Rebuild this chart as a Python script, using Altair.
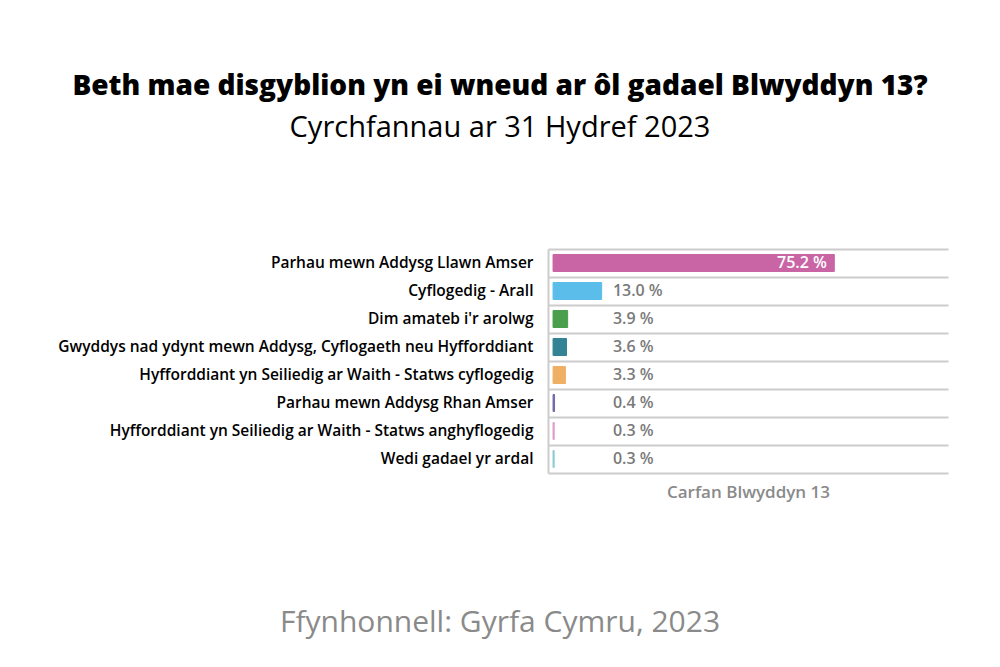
import altair as alt
import pandas as pd

categories = [
    "Parhau mewn Addysg Llawn Amser",
    "Cyflogedig - Arall",
    "Dim amateb i'r arolwg",
    "Gwyddys nad ydynt mewn Addysg, Cyflogaeth neu Hyfforddiant",
    "Hyfforddiant yn Seiliedig ar Waith - Statws cyflogedig",
    "Parhau mewn Addysg Rhan Amser",
    "Hyfforddiant yn Seiliedig ar Waith - Statws anghyflogedig",
    "Wedi gadael yr ardal",
]
values = [75.2, 13.0, 3.9, 3.6, 3.3, 0.4, 0.3, 0.3]
colors = ["#C965A5", "#5BBDEA", "#4A9E4C", "#338394", "#EFAF65", "#7468AE", "#E09ACB", "#8DCBD3"]

title = "Beth mae disgyblion yn ei wneud ar ôl gadael Blwyddyn 13?"
subtitle = "Cyrchfannau ar 31 Hydref 2023"
source = "Ffynhonnell: Gyrfa Cymru, 2023"
axis_title = "Carfan Blwyddyn 13"

df = pd.DataFrame({"cat": categories, "value": values, "color": colors})
FONT = "Open Sans"

y = alt.Y("cat:N", sort=categories,
          scale=alt.Scale(paddingInner=0, paddingOuter=0),
          axis=alt.Axis(title=None, ticks=False, domain=True, domainColor="#cccccc",
                        domainWidth=2, grid=True, gridColor="#cccccc", gridWidth=2,
                        bandPosition=0, labelFont=FONT, labelFontSize=15.5,
                        labelFontWeight=600, labelColor="#000000", labelPadding=15,
                        labelLimit=600))
x = alt.X("value:Q", scale=alt.Scale(domain=[-1.35, 105.6], zero=False, nice=False),
          axis=alt.Axis(title=axis_title, labels=False, ticks=False, grid=False,
                        domainColor="#cccccc", domainWidth=2, titleFont=FONT,
                        titleFontSize=17, titleFontWeight=600, titleColor="#8a8a8a",
                        titlePadding=11))

base = alt.Chart(df)
bars = base.mark_bar(size=17, strokeWidth=1).encode(
    y=y,
    x=x,
    x2=alt.datum(0),
    color=alt.Color("color:N", scale=None),
    stroke=alt.Stroke("color:N", scale=None),
)
lab_base = base.transform_calculate(
    txt="format(datum.value, '.1f') + ' %'",
)
labels_in = lab_base.transform_filter("datum.value > 50").transform_calculate(
    pos="datum.value - 2"
).mark_text(font=FONT, fontSize=16, fontWeight=600, baseline="middle",
            align="right", color="#ffffff").encode(
    y=alt.Y("cat:N", sort=categories), x=alt.X("pos:Q"), text="txt:N")
labels_out = lab_base.transform_filter("datum.value <= 50").transform_calculate(
    pos="16"
).mark_text(font=FONT, fontSize=16, fontWeight=600, baseline="middle",
            align="left", color="#7a7a7a").encode(
    y=alt.Y("cat:N", sort=categories), x=alt.X("pos:Q"), text="txt:N")


def txt(s, xv, yv, size, weight, color):
    return alt.Chart(pd.DataFrame({"t": [s]})).mark_text(
        font=FONT, fontSize=size, fontWeight=weight, color=color, align="center",
        baseline="alphabetic").encode(x=alt.value(xv), y=alt.value(yv), text="t:N")


t1 = txt(title, -48, -154, 28, 800, "#000000")
t2 = txt(subtitle, -48, -112, 29, "normal", "#000000")
t3 = txt(source, -48, 383, 30, "normal", "#8a8a8a")

chart = alt.layer(bars, labels_in, labels_out, t1, t2, t3).properties(
    width=400, height=224,
    background="#ffffff",
    autosize=alt.AutoSizeParams(type="none"),
    padding={"left": 548, "top": 249, "right": 52, "bottom": 194},
).configure_view(strokeWidth=0, stroke="transparent")

chart.save("out.html", embed_options={"renderer": "svg", "actions": False})
